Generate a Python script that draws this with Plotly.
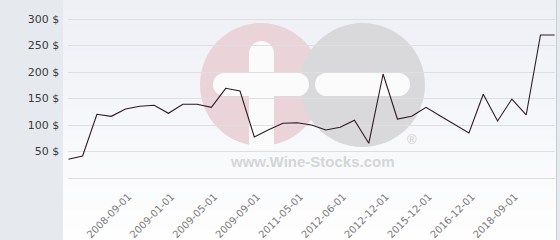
import plotly.graph_objects as go

# ---- data ----
prices = [35.3, 41.5, 120.2, 116.4, 130.2, 135.3, 137.2, 122.1, 139.1, 139.1,
          133.4, 169.2, 164.2, 77.4, 91.1, 103.2, 104.3, 100.0, 90.6, 95.7,
          108.9, 65.5, 196.2, 111.3, 116.4, 133.4, 117.0, 101.0, 84.9, 157.9,
          107.5, 149.0, 118.9, 269.8, 269.8]
tick_index = [4, 7, 10, 13, 16, 19, 22, 25, 28, 31]
tick_labels = ["2008-09-01", "2009-01-01", "2009-05-01", "2009-09-01", "2011-05-01",
               "2012-06-01", "2012-12-01", "2015-12-01", "2016-12-01", "2018-09-01"]
y_ticks = [50, 100, 150, 200, 250, 300]
y_labels = [f"{v} $" for v in y_ticks]

W, H = 560, 240


def px(x):
    return x / W


def py(y):
    return 1 - y / H


shapes = []
# white panel with vertical gradient (stripes)
top_c = (238, 240, 246)
bot_c = (254, 254, 254)
n = 24
for i in range(n):
    t = i / (n - 1)
    c = tuple(round(top_c[k] + (bot_c[k] - top_c[k]) * t) for k in range(3))
    shapes.append(dict(type="rect", xref="paper", yref="paper", layer="below",
                       x0=px(63), x1=px(556), y0=py(i * H / n), y1=py((i + 1) * H / n + 0.5),
                       line=dict(width=0), fillcolor=f"rgb{c}"))
# right border
shapes.append(dict(type="line", xref="paper", yref="paper", layer="below",
                   x0=px(556.5), x1=px(556.5), y0=0, y1=1,
                   line=dict(color="#c9cdd2", width=1)))

# watermark logo
pink = "#ead3d9"
gray = "#d9d9db"
white = "#fbfbfc"
shapes.append(dict(type="circle", xref="paper", yref="paper", layer="below",
                   x0=px(200), x1=px(322), y0=py(146), y1=py(23),
                   line=dict(width=0), fillcolor=pink))
shapes.append(dict(type="circle", xref="paper", yref="paper", layer="below",
                   x0=px(300), x1=px(425), y0=py(147), y1=py(23),
                   line=dict(width=0), fillcolor=gray))


def bar(x0, x1, y0, y1, horizontal=True):
    out = []
    if horizontal:
        r = (y1 - y0) / 2
        out.append(dict(type="rect", x0=px(x0 + r), x1=px(x1 - r), y0=py(y1), y1=py(y0)))
        out.append(dict(type="circle", x0=px(x0), x1=px(x0 + 2 * r), y0=py(y1), y1=py(y0)))
        out.append(dict(type="circle", x0=px(x1 - 2 * r), x1=px(x1), y0=py(y1), y1=py(y0)))
    else:
        r = (x1 - x0) / 2
        out.append(dict(type="rect", x0=px(x0), x1=px(x1), y0=py(y1), y1=py(y0 + r)))
        out.append(dict(type="circle", x0=px(x0), x1=px(x1), y0=py(y0 + 2 * r), y1=py(y0)))
    for s in out:
        s.update(xref="paper", yref="paper", layer="below", line=dict(width=0), fillcolor=white)
    return out


shapes += bar(249, 274, 41, 149, horizontal=False)
shapes += bar(213, 309, 73, 96)
shapes += bar(315, 410, 73, 96)

annotations = [
    dict(text="<b>www.Wine-Stocks.com</b>", x=px(312), y=py(161), xref="paper", yref="paper",
         showarrow=False, font=dict(family="Liberation Sans", size=15, color="#d5d5d7"),
         xanchor="center", yanchor="middle"),
    dict(text="®", x=px(412), y=py(139), xref="paper", yref="paper",
         showarrow=False, font=dict(family="Liberation Sans", size=13, color="#cfcfd1"),
         xanchor="center", yanchor="middle"),
]

fig = go.Figure()
fig.add_trace(go.Scatter(x=list(range(len(prices))), y=prices, mode="lines",
                         line=dict(color="#2e1a23", width=1.1), hoverinfo="skip"))

fig.update_layout(
    width=W, height=H, margin=dict(l=0, r=0, t=0, b=0),
    paper_bgcolor="#e6eaee", plot_bgcolor="rgba(0,0,0,0)",
    showlegend=False, shapes=shapes, annotations=annotations,
    xaxis=dict(domain=[px(68.3), px(554.8)], range=[0, len(prices) - 1],
               tickvals=tick_index, ticktext=tick_labels, tickangle=-45,
               showgrid=False, zeroline=False, showline=True, linecolor="#dcdcdc", linewidth=1,
               ticks="", ticklabelstandoff=8, ticklabelshift=3,
               tickfont=dict(family="DejaVu Sans", size=10, color="#7a7a7a")),
    yaxis=dict(domain=[py(178), py(8.4)], range=[0, 320],
               tickvals=y_ticks, ticktext=y_labels, showgrid=True, gridcolor="#dedfe2",
               gridwidth=1, zeroline=False, showline=False, ticks="", ticklabelstandoff=8,
               tickfont=dict(family="DejaVu Sans", size=11, color="#3a3a3a")),
)

fig.write_html("out.html")
